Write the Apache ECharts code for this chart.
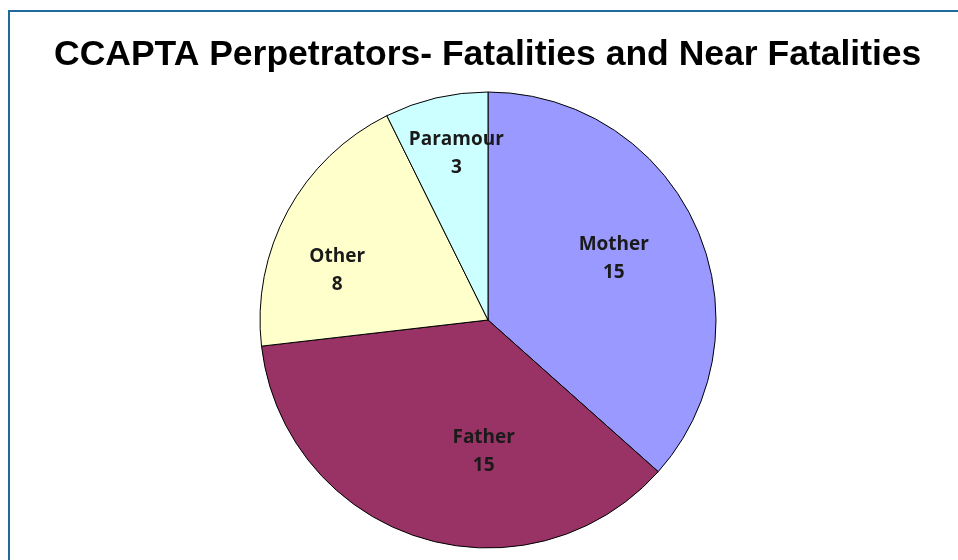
<!DOCTYPE html>
<html>
<head>
<meta charset="utf-8">
<style>
  html, body { margin: 0; padding: 0; background: #fff; }
  #chart { width: 958px; height: 560px; }
</style>
<script src="https://cdn.jsdelivr.net/npm/echarts@6/dist/echarts.min.js"></script>
</head>
<body>
<div id="chart"></div>
<script>
const CATEGORIES = ['Mother', 'Father', 'Other', 'Paramour'];
const COUNTS = [15, 15, 8, 3];
const COLORS = ['#9999ff', '#993366', '#ffffcc', '#ccffff'];
// nudges so labels sit where Excel put them
const LABEL_DX = [19, 31, -48, -5];
const LABEL_DY = [-14, 20, 6, -52];

const chart = echarts.init(document.querySelector('#chart'));

const option = {
  backgroundColor: '#fff',
  animation: false,
  title: {
    text: 'CCAPTA Perpetrators- Fatalities and Near Fatalities',
    left: 49,
    top: 32,
    textStyle: {
      fontFamily: 'Liberation Sans',
      fontWeight: 'bold',
      fontSize: 35.5,
      color: '#000',
    },
  },
  graphic: [
    { type: 'line', shape: { x1: 9, y1: 11, x2: 958, y2: 11 }, style: { stroke: '#1f6a9a', lineWidth: 2 } },
    { type: 'line', shape: { x1: 9, y1: 10, x2: 9, y2: 560 }, style: { stroke: '#1f6a9a', lineWidth: 2 } },
  ],
  series: [
    {
      type: 'pie',
      center: [488, 320],
      radius: 228,
      startAngle: 90,
      clockwise: true,
      data: CATEGORIES.map((name, i) => ({
        name,
        value: COUNTS[i],
        itemStyle: { color: COLORS[i] },
      })),
      itemStyle: { borderColor: '#000', borderWidth: 1 },
      label: {
        position: 'inside',
        formatter: '{b}\n{c}',
        fontFamily: 'Open Sans',
        fontWeight: 'bold',
        fontSize: 19,
        lineHeight: 28,
        color: '#1a1a1a',
      },
      labelLine: { show: false },
      labelLayout: (params) => ({
        dx: LABEL_DX[params.dataIndex],
        dy: LABEL_DY[params.dataIndex],
      }),
      emphasis: { disabled: true },
    },
  ],
};

chart.setOption(option);
window.addEventListener('resize', () => chart.resize());
</script>
</body>
</html>
